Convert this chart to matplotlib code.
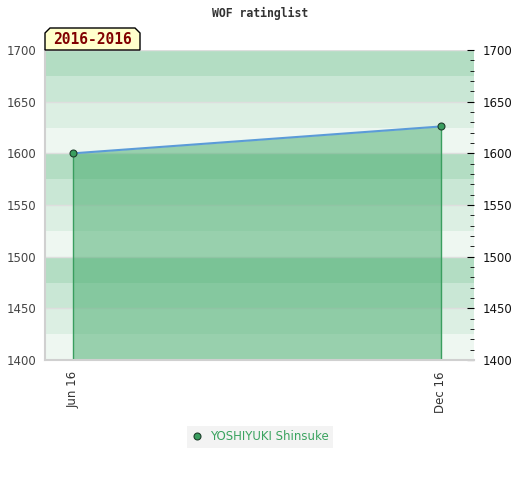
import matplotlib
matplotlib.use("Agg")
import matplotlib.pyplot as plt
import matplotlib.dates as mdates
from matplotlib.patches import Polygon
from matplotlib.lines import Line2D
import numpy as np
import datetime as dt

# data
player = "YOSHIYUKI Shinsuke"
dates = [dt.date(2016, 6, 1), dt.date(2016, 12, 1)]
ratings = [1600, 1626]
period_label = "2016-2016"
title = "WOF ratinglist"
y_min, y_max = 1400, 1700

BAND_COLORS = ["#eef7f1", "#dcefe3", "#c9e7d5", "#b3ddc3"]  # bottom -> top in each 100
FILL = "#40a968"
MARK = "#3a9e5f"
LINE = "#5b9bd8"

fig = plt.figure(figsize=(5.2, 4.8), dpi=100)
ax = fig.add_axes([45 / 520, 120 / 480, 429 / 520, 310 / 480])

# background bands every 25 points
for lo in range(y_min, y_max, 25):
    c = BAND_COLORS[((lo - y_min) // 25) % 4]
    ax.axhspan(lo, lo + 25, color=c, lw=0, zorder=0)
for y in range(y_min, y_max + 1, 50):
    ax.axhline(y, color="#dedede", lw=1, zorder=0.5)

x = mdates.date2num(dates)
ax.fill_between(x, ratings, y_min, color=FILL, alpha=0.49, lw=0, zorder=1)
ax.vlines(x, y_min, ratings, color=MARK, lw=1, zorder=2)
ax.plot(x, ratings, color=LINE, lw=1.5, zorder=3)
ax.plot(x, ratings, "o", ms=5, mfc=MARK, mec="#1d3d2a", mew=0.8, zorder=4)

ax.set_ylim(y_min, y_max)
ax.set_xlim(x[0] - 14, x[-1] + 16.5)
ax.set_xticks(x)
ax.xaxis.set_major_formatter(mdates.DateFormatter("%b %y"))
ax.tick_params(axis="x", length=0, labelrotation=90, labelsize=8.5, labelcolor="#333333", pad=8)
for lbl in ax.get_xticklabels():
    lbl.set_va("top")

ax.set_yticks(range(y_min, y_max + 1, 50))
ax.set_yticks(range(y_min, y_max + 1, 10), minor=True)
ax.tick_params(axis="y", which="both", left=False, right=True, labelleft=True,
               labelright=True, direction="in", labelsize=8.5)
ax.tick_params(axis="y", which="major", length=5, pad=6)
ax.tick_params(axis="y", which="minor", length=3)
for t in ax.yaxis.get_major_ticks():
    t.label1.set_color("#444444")
    t.label2.set_color("#111111")

for s in ["top", "right"]:
    ax.spines[s].set_visible(False)
for s in ["left", "bottom"]:
    ax.spines[s].set_color("#d0d0d0")
    ax.spines[s].set_linewidth(1.5)

fig.text(0.5, 1 - 13 / 480, title, ha="center", va="center", family="DejaVu Sans Mono",
         fontweight="bold", fontsize=8.3, color="#333333")

# period tag with chamfered top corners
px = [45, 45, 50, 135, 140, 140]
py = [50, 33, 28, 28, 33, 50]
tag = Polygon(np.column_stack([np.array(px) / 520, 1 - np.array(py) / 480]), closed=True,
              facecolor="#ffffcc", edgecolor="black", lw=1, transform=fig.transFigure)
fig.patches.append(tag)
fig.text(92 / 520, 1 - 40 / 480, period_label, ha="center", va="center",
         family="DejaVu Sans Mono", fontweight="bold", fontsize=10.5, color="#800000")

handle = Line2D([], [], ls="none", marker="o", ms=5, mfc=MARK, mec="#1d3d2a", mew=0.8)
leg = fig.legend([handle], [player], loc="center", bbox_to_anchor=(260 / 520, 1 - 437 / 480),
                 frameon=True, facecolor="#f0f0f0", edgecolor="none", fancybox=False,
                 fontsize=8.5, handlelength=1, handletextpad=0.6, borderpad=0.35)
for t in leg.get_texts():
    t.set_color("#3aa35f")

fig.savefig("out.png", dpi=100)
